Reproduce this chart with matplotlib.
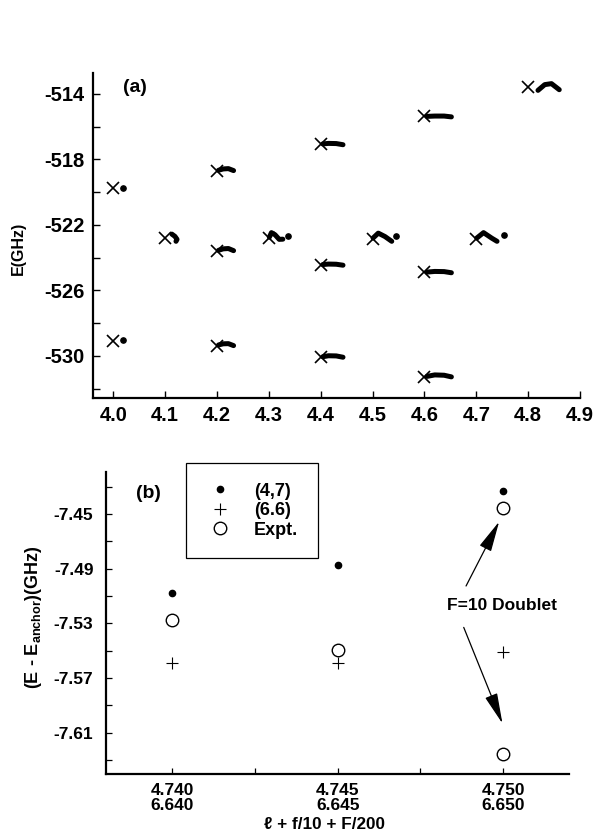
import matplotlib
matplotlib.use("Agg")
import matplotlib.pyplot as plt

plt.rcParams['font.family'] = ['Liberation Sans', 'DejaVu Sans']
plt.rcParams['font.weight'] = 'bold'
plt.rcParams['mathtext.fontset'] = 'custom'
plt.rcParams['mathtext.rm'] = 'Liberation Sans:bold'
plt.rcParams['mathtext.bf'] = 'Liberation Sans:bold'

# ---------------- panel (a) data ----------------
cross_x = [4.0, 4.0, 4.1, 4.2, 4.2, 4.2, 4.3, 4.4, 4.4, 4.4, 4.5, 4.6, 4.6, 4.6, 4.7, 4.8]
cross_E = [-519.75, -529.07, -522.8, -518.7, -523.6, -529.38, -522.8, -517.06, -524.44, -530.08,
           -522.85, -515.37, -524.9, -531.27, -522.85, -513.57]

dot_x = [4.019, 4.019, 4.337, 4.545, 4.754]
dot_E = [-519.72, -529.05, -522.65, -522.65, -522.6]

c41_x = [4.113, 4.119, 4.123, 4.121]
c41_E = [-522.56, -522.7, -522.88, -523.0]

c42a_x = [4.203, 4.212, 4.222, 4.232]
c42a_E = [-518.66, -518.58, -518.56, -518.68]
c42b_x = [4.203, 4.212, 4.222, 4.232]
c42b_E = [-523.55, -523.46, -523.44, -523.57]
c42c_x = [4.203, 4.212, 4.222, 4.232]
c42c_E = [-529.33, -529.26, -529.25, -529.37]

c43_x = [4.301, 4.305, 4.312, 4.32, 4.327]
c43_E = [-522.75, -522.47, -522.6, -522.88, -522.87]

c44a_x = [4.404, 4.415, 4.43, 4.443]
c44a_E = [-517.05, -517.02, -517.03, -517.1]
c44b_x = [4.404, 4.415, 4.43, 4.443]
c44b_E = [-524.42, -524.39, -524.4, -524.46]
c44c_x = [4.404, 4.415, 4.43, 4.443]
c44c_E = [-530.05, -529.99, -530.0, -530.08]

c45_x = [4.501, 4.511, 4.524, 4.537]
c45_E = [-522.8, -522.5, -522.71, -523.0]

c46a_x = [4.605, 4.62, 4.638, 4.652]
c46a_E = [-515.37, -515.35, -515.35, -515.4]
c46b_x = [4.605, 4.62, 4.638, 4.652]
c46b_E = [-524.88, -524.84, -524.85, -524.92]
c46c_x = [4.605, 4.62, 4.638, 4.652]
c46c_E = [-531.25, -531.16, -531.18, -531.28]

c47_x = [4.701, 4.714, 4.73, 4.74]
c47_E = [-522.8, -522.47, -522.81, -523.0]

c48_x = [4.819, 4.832, 4.845, 4.86]
c48_E = [-513.78, -513.43, -513.37, -513.74]

top_xticks = [4.0, 4.1, 4.2, 4.3, 4.4, 4.5, 4.6, 4.7, 4.8, 4.9]
top_xlabels = ['4.0', '4.1', '4.2', '4.3', '4.4', '4.5', '4.6', '4.7', '4.8', '4.9']
top_yticks = [-514, -518, -522, -526, -530]
top_ylabels = ['-514', '-518', '-522', '-526', '-530']
top_yminor = [-516, -520, -524, -528, -532]

# ---------------- panel (b) data ----------------
b_x = [4.740, 4.745, 4.750]
b_47 = [-7.5077, -7.4876, -7.4332]
b_66 = [-7.5594, -7.5589, -7.5513]
expt_x = [4.740, 4.745, 4.750, 4.750]
expt_E = [-7.5279, -7.5496, -7.4458, -7.6253]

bot_xticks = [4.740, 4.745, 4.750]
bot_xlabels = ['4.740\n6.640', '4.745\n6.645', '4.750\n6.650']
bot_xminor = [4.7425, 4.7475]
bot_yticks = [-7.45, -7.49, -7.53, -7.57, -7.61]
bot_ylabels = ['-7.45', '-7.49', '-7.53', '-7.57', '-7.61']
bot_yminor = [-7.43, -7.47, -7.51, -7.55, -7.59, -7.63]

W, H = 593, 838
fig = plt.figure(figsize=(W / 100, H / 100), dpi=100)

# ---------- top axes ----------
axa = fig.add_axes([92.5 / W, 1 - 398 / H, (580 - 92.5) / W, (398 - 73) / H])
axa.set_xlim(3.96, 4.9)
axa.set_ylim(-532.57, -512.72)
for s in ['top', 'right']:
    axa.spines[s].set_visible(False)
for s in ['left', 'bottom']:
    axa.spines[s].set_linewidth(1.6)

axa.plot(cross_x, cross_E, 'x', color='k', ms=8, mew=1.2, ls='none')
axa.plot(dot_x, dot_E, 'o', color='k', ms=3.8, ls='none')
curves = [(c41_x, c41_E), (c42a_x, c42a_E), (c42b_x, c42b_E), (c42c_x, c42c_E),
          (c43_x, c43_E), (c44a_x, c44a_E), (c44b_x, c44b_E), (c44c_x, c44c_E),
          (c45_x, c45_E), (c46a_x, c46a_E), (c46b_x, c46b_E), (c46c_x, c46c_E),
          (c47_x, c47_E), (c48_x, c48_E)]
for cx, cy in curves:
    axa.plot(cx, cy, '-', color='k', lw=3.6, solid_capstyle='round', solid_joinstyle='round')

axa.set_xticks(top_xticks)
axa.set_xticklabels(top_xlabels, fontsize=14.5, fontweight='bold')
axa.set_yticks(top_yticks)
axa.set_yticklabels(top_ylabels, fontsize=14.5, fontweight='bold')
axa.set_yticks(top_yminor, minor=True)
axa.tick_params(axis='both', which='both', direction='in', length=5, width=1.0)
axa.tick_params(axis='x', pad=6)
axa.tick_params(axis='y', pad=6)
fig.text(135 / W, 1 - 88 / H, '(a)', fontsize=14,
         fontweight='bold', ha='center', va='center')
fig.text(18 / W, 1 - 248 / H, 'E(GHz)', rotation=90, fontsize=11.5, fontweight='bold',
         ha='center', va='center')

# ---------- bottom axes ----------
axb = fig.add_axes([106 / W, 1 - 774.3 / H, (569.3 - 106) / W, (774.3 - 472.3) / H])
axb.set_xlim(4.738, 4.752)
axb.set_ylim(-7.6405, -7.4195)
for s in ['top', 'right']:
    axb.spines[s].set_visible(False)
for s in ['left', 'bottom']:
    axb.spines[s].set_linewidth(1.6)

h47, = axb.plot(b_x, b_47, 'o', color='k', ms=4.5, ls='none')
h66, = axb.plot(b_x, b_66, '+', color='k', ms=9, mew=0.8, ls='none')
hex_, = axb.plot(expt_x, expt_E, 'o', mfc='white', mec='k', ms=9, mew=1.0, ls='none')

axb.set_xticks(bot_xticks)
axb.set_xticklabels(bot_xlabels, fontsize=12.5, fontweight='bold', linespacing=1.0)
axb.set_xticks(bot_xminor, minor=True)
axb.set_yticks(bot_yticks)
axb.set_yticklabels(bot_ylabels, fontsize=12.5, fontweight='bold')
axb.set_yticks(bot_yminor, minor=True)
axb.tick_params(axis='both', which='both', direction='in', length=4, width=0.9)
axb.tick_params(axis='x', pad=6)
axb.tick_params(axis='y', pad=9)

fig.text(148 / W, 1 - 493 / H, '(b)', fontsize=14, fontweight='bold', ha='center', va='center')
fig.text(33.5 / W, 1 - 617 / H, r'(E - E$_{\rm anchor}$)(GHz)', rotation=90, fontsize=13,
         fontweight='bold', ha='center', va='center')
fig.text(325 / W, 1 - 824 / H, '\u2113 + f/10 + F/200', fontsize=12.3, fontweight='bold',
         ha='center', va='center')

leg = axb.legend([h47, h66, hex_], ['(4,7)', '(6.6)', 'Expt.'],
                 loc='upper left', bbox_to_anchor=(185.7 / W, 1 - 462.7 / H),
                 bbox_transform=fig.transFigure, borderaxespad=0, fancybox=False,
                 framealpha=1, edgecolor='k', fontsize=13, handlelength=1.6,
                 handletextpad=1.07, labelspacing=0.14, borderpad=1.1)
leg.get_frame().set_linewidth(0.9)
for t in leg.get_texts():
    t.set_fontweight('bold')

# arrows and annotation
ap = dict(arrowstyle='-|>,head_length=0.95,head_width=0.2', mutation_scale=20,
          lw=0.9, color='k', fc='k', shrinkA=0, shrinkB=0)
axb.annotate('', xy=(4.74988, -7.4556), xytext=(4.74888, -7.5027), arrowprops=ap)
axb.annotate('', xy=(4.74998, -7.6033), xytext=(4.74881, -7.533), arrowprops=ap)
axb.text(4.74996, -7.5172, 'F=10 Doublet', fontsize=12.5, fontweight='bold',
         ha='center', va='center')

fig.savefig('out.png', dpi=100)
